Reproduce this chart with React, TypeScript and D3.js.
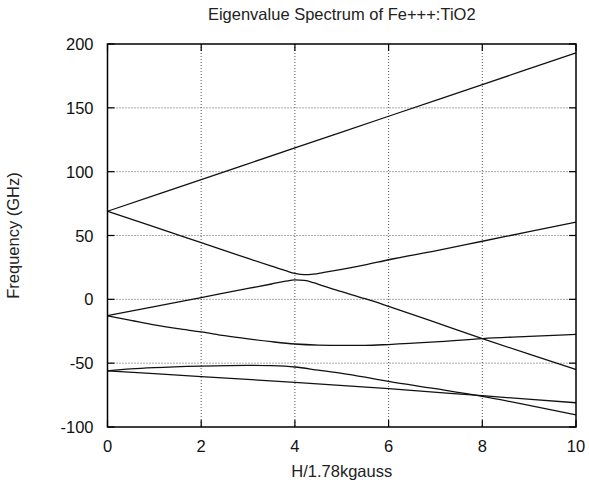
import React from 'react';
import * as d3 from 'd3';

const title = 'Eigenvalue Spectrum of Fe+++:TiO2';
const xLabel = 'H/1.78kgauss';
const yLabel = 'Frequency (GHz)';

const xTicks = [0, 2, 4, 6, 8, 10];
const yTicks = [-100, -50, 0, 50, 100, 150, 200];

// levels, [H, GHz]
const level1 = [[0, 69], [2, 93.8], [4, 118.6], [6, 143.4], [8, 168.2], [10, 193]];
const level2 = [[0, 69], [1, 56.8], [2, 44.4], [3, 32], [3.5, 26], [3.8, 22.5], [4, 20.3], [4.2, 19.3], [4.4, 19.8], [4.6, 21], [5, 23.5], [5.5, 27], [6, 31], [7, 38], [8, 45.5], [9, 53], [10, 60.5]];
const level3 = [[0, -12.8], [1, -5.7], [2, 1.4], [3, 8.5], [3.5, 12], [3.8, 14.2], [4, 15.2], [4.2, 14.8], [4.4, 13], [4.6, 10.5], [5, 6], [5.5, 0.5], [6, -5.5], [7, -18], [8, -30.7], [9, -43], [10, -55]];
const level4 = [[0, -13], [0.5, -16.5], [1, -20], [1.5, -23], [2, -25.5], [2.5, -28.5], [3, -31], [3.5, -33.2], [4, -35], [4.5, -35.8], [5, -36], [5.5, -36], [6, -35.4], [7, -33.4], [8, -30.7], [9, -29], [10, -27.5]];
const level5 = [[0, -56], [0.5, -54.5], [1, -53.5], [2, -52.3], [3, -51.7], [3.5, -52], [4, -53], [4.5, -55.5], [5, -58], [5.5, -61], [6, -64.3], [7, -70], [8, -76], [9, -83], [10, -90.5]];
const level6 = [[0, -56], [2, -60.5], [4, -65], [6, -70], [8, -75.5], [10, -81]];

const levels = [level1, level2, level3, level4, level5, level6];

const W = 589;
const H = 482;
const margin = { top: 44, right: 13, bottom: 55, left: 107.5 };

const App = () => {
  const x = d3.scaleLinear().domain([0, 10]).range([margin.left, W - margin.right]);
  const y = d3.scaleLinear().domain([-100, 200]).range([H - margin.bottom, margin.top]);

  const line = d3.line()
    .x(d => x(d[0]))
    .y(d => y(d[1]))
    .curve(d3.curveMonotoneX);

  const x0 = x(0), x1 = x(10), y0 = y(-100), y1 = y(200);
  const font = 'Liberation Sans, Arial, Helvetica, sans-serif';
  const tick = 7;

  return (
    <svg width={W} height={H} style={{ position: 'absolute', left: 0, top: 0 }} fontFamily={font}>
      <rect width={W} height={H} fill="#fff" />
      <text x={(x0 + x1) / 2} y={20} textAnchor="middle" fontSize={16.5} fill="#222">{title}</text>

      {/* grid */}
      <g stroke="#555" strokeWidth={1} strokeDasharray="1,2">
        {xTicks.slice(1, -1).map(t => (
          <line key={'gx' + t} x1={x(t)} x2={x(t)} y1={y1} y2={y0} />
        ))}
        {yTicks.slice(1, -1).map(t => (
          <line key={'gy' + t} x1={x0} x2={x1} y1={y(t)} y2={y(t)} />
        ))}
      </g>

      {/* ticks on all four sides */}
      <g stroke="#000" strokeWidth={1.2}>
        {xTicks.map(t => (
          <g key={'tx' + t}>
            <line x1={x(t)} x2={x(t)} y1={y0} y2={y0 - tick} />
            <line x1={x(t)} x2={x(t)} y1={y1} y2={y1 + tick} />
          </g>
        ))}
        {yTicks.map(t => (
          <g key={'ty' + t}>
            <line x1={x0} x2={x0 + tick} y1={y(t)} y2={y(t)} />
            <line x1={x1} x2={x1 - tick} y1={y(t)} y2={y(t)} />
          </g>
        ))}
      </g>

      {/* levels */}
      <g fill="none" stroke="#111" strokeWidth={1.3}>
        {levels.map((d, i) => (
          <path key={i} d={line(d as [number, number][]) || ''} />
        ))}
      </g>

      <rect x={x0} y={y1} width={x1 - x0} height={y0 - y1} fill="none" stroke="#000" strokeWidth={1.5} />

      {/* tick labels */}
      <g fontSize={16.5} fill="#111">
        {xTicks.map(t => (
          <text key={'lx' + t} x={x(t)} y={y0 + 25} textAnchor="middle">{t}</text>
        ))}
        {yTicks.map(t => (
          <text key={'ly' + t} x={x0 - 14} y={y(t) + 6} textAnchor="end">{t}</text>
        ))}
      </g>

      <text x={(x0 + x1) / 2} y={477} textAnchor="middle" fontSize={16.5} fill="#222">{xLabel}</text>
      <text transform={`translate(19, ${(y0 + y1) / 2}) rotate(-90)`} textAnchor="middle" fontSize={16.5} fill="#222">{yLabel}</text>
    </svg>
  );
};

export default App;
